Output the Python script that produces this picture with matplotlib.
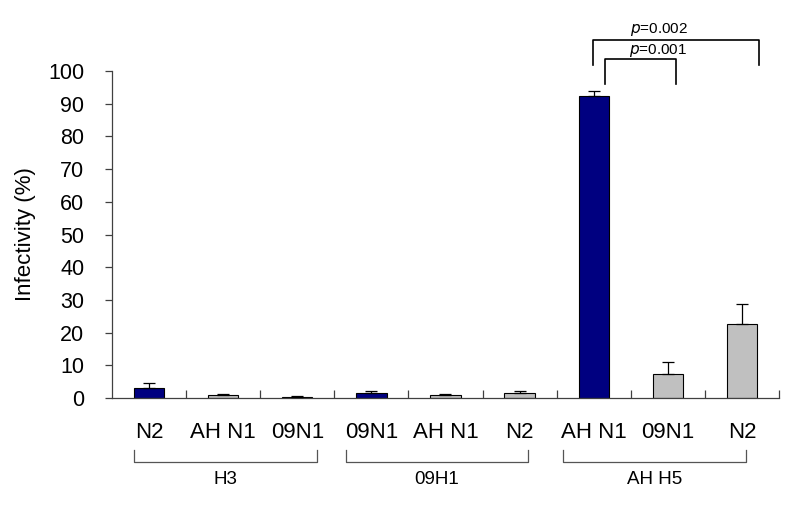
import matplotlib
matplotlib.use("Agg")
import matplotlib.pyplot as plt
import matplotlib.transforms as mtransforms

plt.rcParams['font.family'] = ['Liberation Sans', 'DejaVu Sans']

groups = ["H3", "09H1", "AH H5"]
categories = ["N2", "AH N1", "09N1", "09N1", "AH N1", "N2", "AH N1", "09N1", "N2"]
values = [3.0, 0.8, 0.3, 1.4, 0.8, 1.5, 92.5, 7.3, 22.6]
errors = [1.5, 0.3, 0.3, 0.6, 0.3, 0.6, 1.5, 3.7, 6.1]
colors = ["#000080", "#C0C0C0", "#C0C0C0", "#000080", "#C0C0C0", "#C0C0C0",
          "#000080", "#C0C0C0", "#C0C0C0"]
y_ticks = [0, 10, 20, 30, 40, 50, 60, 70, 80, 90, 100]
p_labels = ["p=0.002", "p=0.001"]

axis_color = "#404040"

fig = plt.figure(figsize=(7.98, 5.11), dpi=100)
ax = fig.add_axes([112/798, 113/511, 667/798, 327/511])

x = [i + 0.5 for i in range(len(categories))]
ax.bar(x, values, width=0.41, color=colors, edgecolor="black", linewidth=0.8, zorder=2)
ax.errorbar(x, values, yerr=[[0]*len(errors), errors], fmt="none", ecolor="black",
            elinewidth=0.9, capsize=4, capthick=0.9, zorder=3)

ax.set_xlim(0, len(categories))
ax.set_ylim(0, 100)
ax.set_yticks(y_ticks)
ax.set_yticklabels([str(t) for t in y_ticks], fontsize=15.5)
ax.tick_params(axis="y", direction="out", length=5, width=0.9, color=axis_color, pad=15)
ax.set_xticks(range(1, len(categories) + 1))
ax.set_xticklabels([])
ax.tick_params(axis="x", direction="in", length=6, width=0.9, color=axis_color)

for s in ["top", "right"]:
    ax.spines[s].set_visible(False)
for s in ["left", "bottom"]:
    ax.spines[s].set_color(axis_color)
    ax.spines[s].set_linewidth(0.9)

ax.set_ylabel("Infectivity (%)", fontsize=16)
ax.yaxis.set_label_coords(-0.114, 0.5)

trans = mtransforms.blended_transform_factory(ax.transData, ax.transAxes)
for xi, lab in zip(x, categories):
    ax.text(xi, -0.107, lab, transform=trans, ha="center", va="center", fontsize=16)

# group brackets
bracket_ext = [(0.30, 2.77), (3.16, 5.61), (6.09, 8.55)]
for (x0, x1), g in zip(bracket_ext, groups):
    ax.plot([x0, x0, x1, x1], [-0.159, -0.196, -0.196, -0.159], transform=trans,
            color="#555555", lw=0.9, clip_on=False)
    ax.text((x0 + x1) / 2, -0.248, g, transform=trans, ha="center", va="center", fontsize=13.5)

# significance brackets
ax.plot([6.49, 6.49, 8.73, 8.73], [101.8, 109.5, 109.5, 101.8], color="black", lw=1.2, clip_on=False)
ax.plot([6.65, 6.65, 7.61, 7.61], [96.0, 103.7, 103.7, 96.0], color="black", lw=1.2, clip_on=False)
for lab, (tx, ty) in zip(p_labels, [(7.38, 112.8), (7.37, 106.4)]):
    ax.text(tx, ty, r"$\it{p}$" + lab[1:], ha="center", va="center", fontsize=11, clip_on=False)

fig.savefig("out.png", dpi=100)
